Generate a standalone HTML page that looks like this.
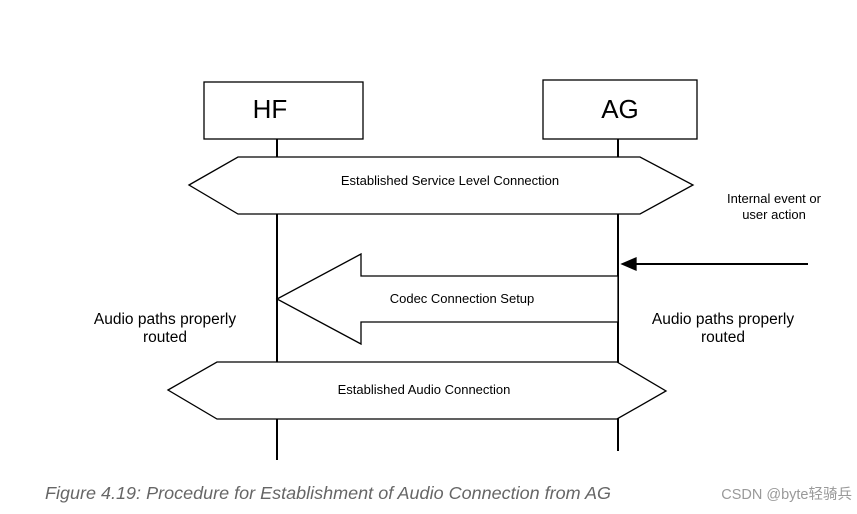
<!DOCTYPE html>
<html><head><style>body{margin:0;background:#fff}</style></head><body>
<svg width="857" height="509" xmlns="http://www.w3.org/2000/svg" font-family="Liberation Sans, sans-serif">
<g stroke="#000" stroke-width="1.3" fill="#fff">
<rect x="204" y="82" width="159" height="57"/>
<rect x="543" y="80" width="154" height="59"/>
<line x1="277" y1="139" x2="277" y2="460" stroke-width="2"/>
<line x1="618" y1="139" x2="618" y2="451" stroke-width="2"/>
<polygon points="189,185 238,157 640,157 693,185 640,214 238,214"/>
<polygon points="618,276 361,276 361,254 277,299 361,344 361,322 618,322"/>
<polygon points="168,390 217,362 617,362 666,391 617,419 217,419"/>
<line x1="808" y1="264" x2="634" y2="264" stroke-width="2"/>
<polygon points="622,264 636,258 636,270" fill="#000"/>
</g>
<g fill="#000" text-anchor="middle">
<text x="270" y="118" font-size="26">HF</text>
<text x="620" y="118" font-size="26">AG</text>
<text x="450" y="185" font-size="13">Established Service Level Connection</text>
<text x="462" y="303" font-size="13">Codec Connection Setup</text>
<text x="424" y="394" font-size="13">Established Audio Connection</text>
<text x="774" y="203" font-size="13">Internal event or</text>
<text x="774" y="219" font-size="13">user action</text>
<text x="165" y="324" font-size="15.5">Audio paths properly</text>
<text x="165" y="342" font-size="15.5">routed</text>
<text x="723" y="324" font-size="15.5">Audio paths properly</text>
<text x="723" y="342" font-size="15.5">routed</text>
</g>
<text x="45" y="499" font-size="17.6" font-style="italic" fill="#666" textLength="566" lengthAdjust="spacingAndGlyphs">Figure 4.19: Procedure for Establishment of Audio Connection from AG</text>
<text x="852" y="499" font-size="14.5" fill="#999" text-anchor="end" font-family="Liberation Sans, Noto Sans CJK SC, sans-serif">CSDN @byte轻骑兵</text>
</svg>
</body></html>
